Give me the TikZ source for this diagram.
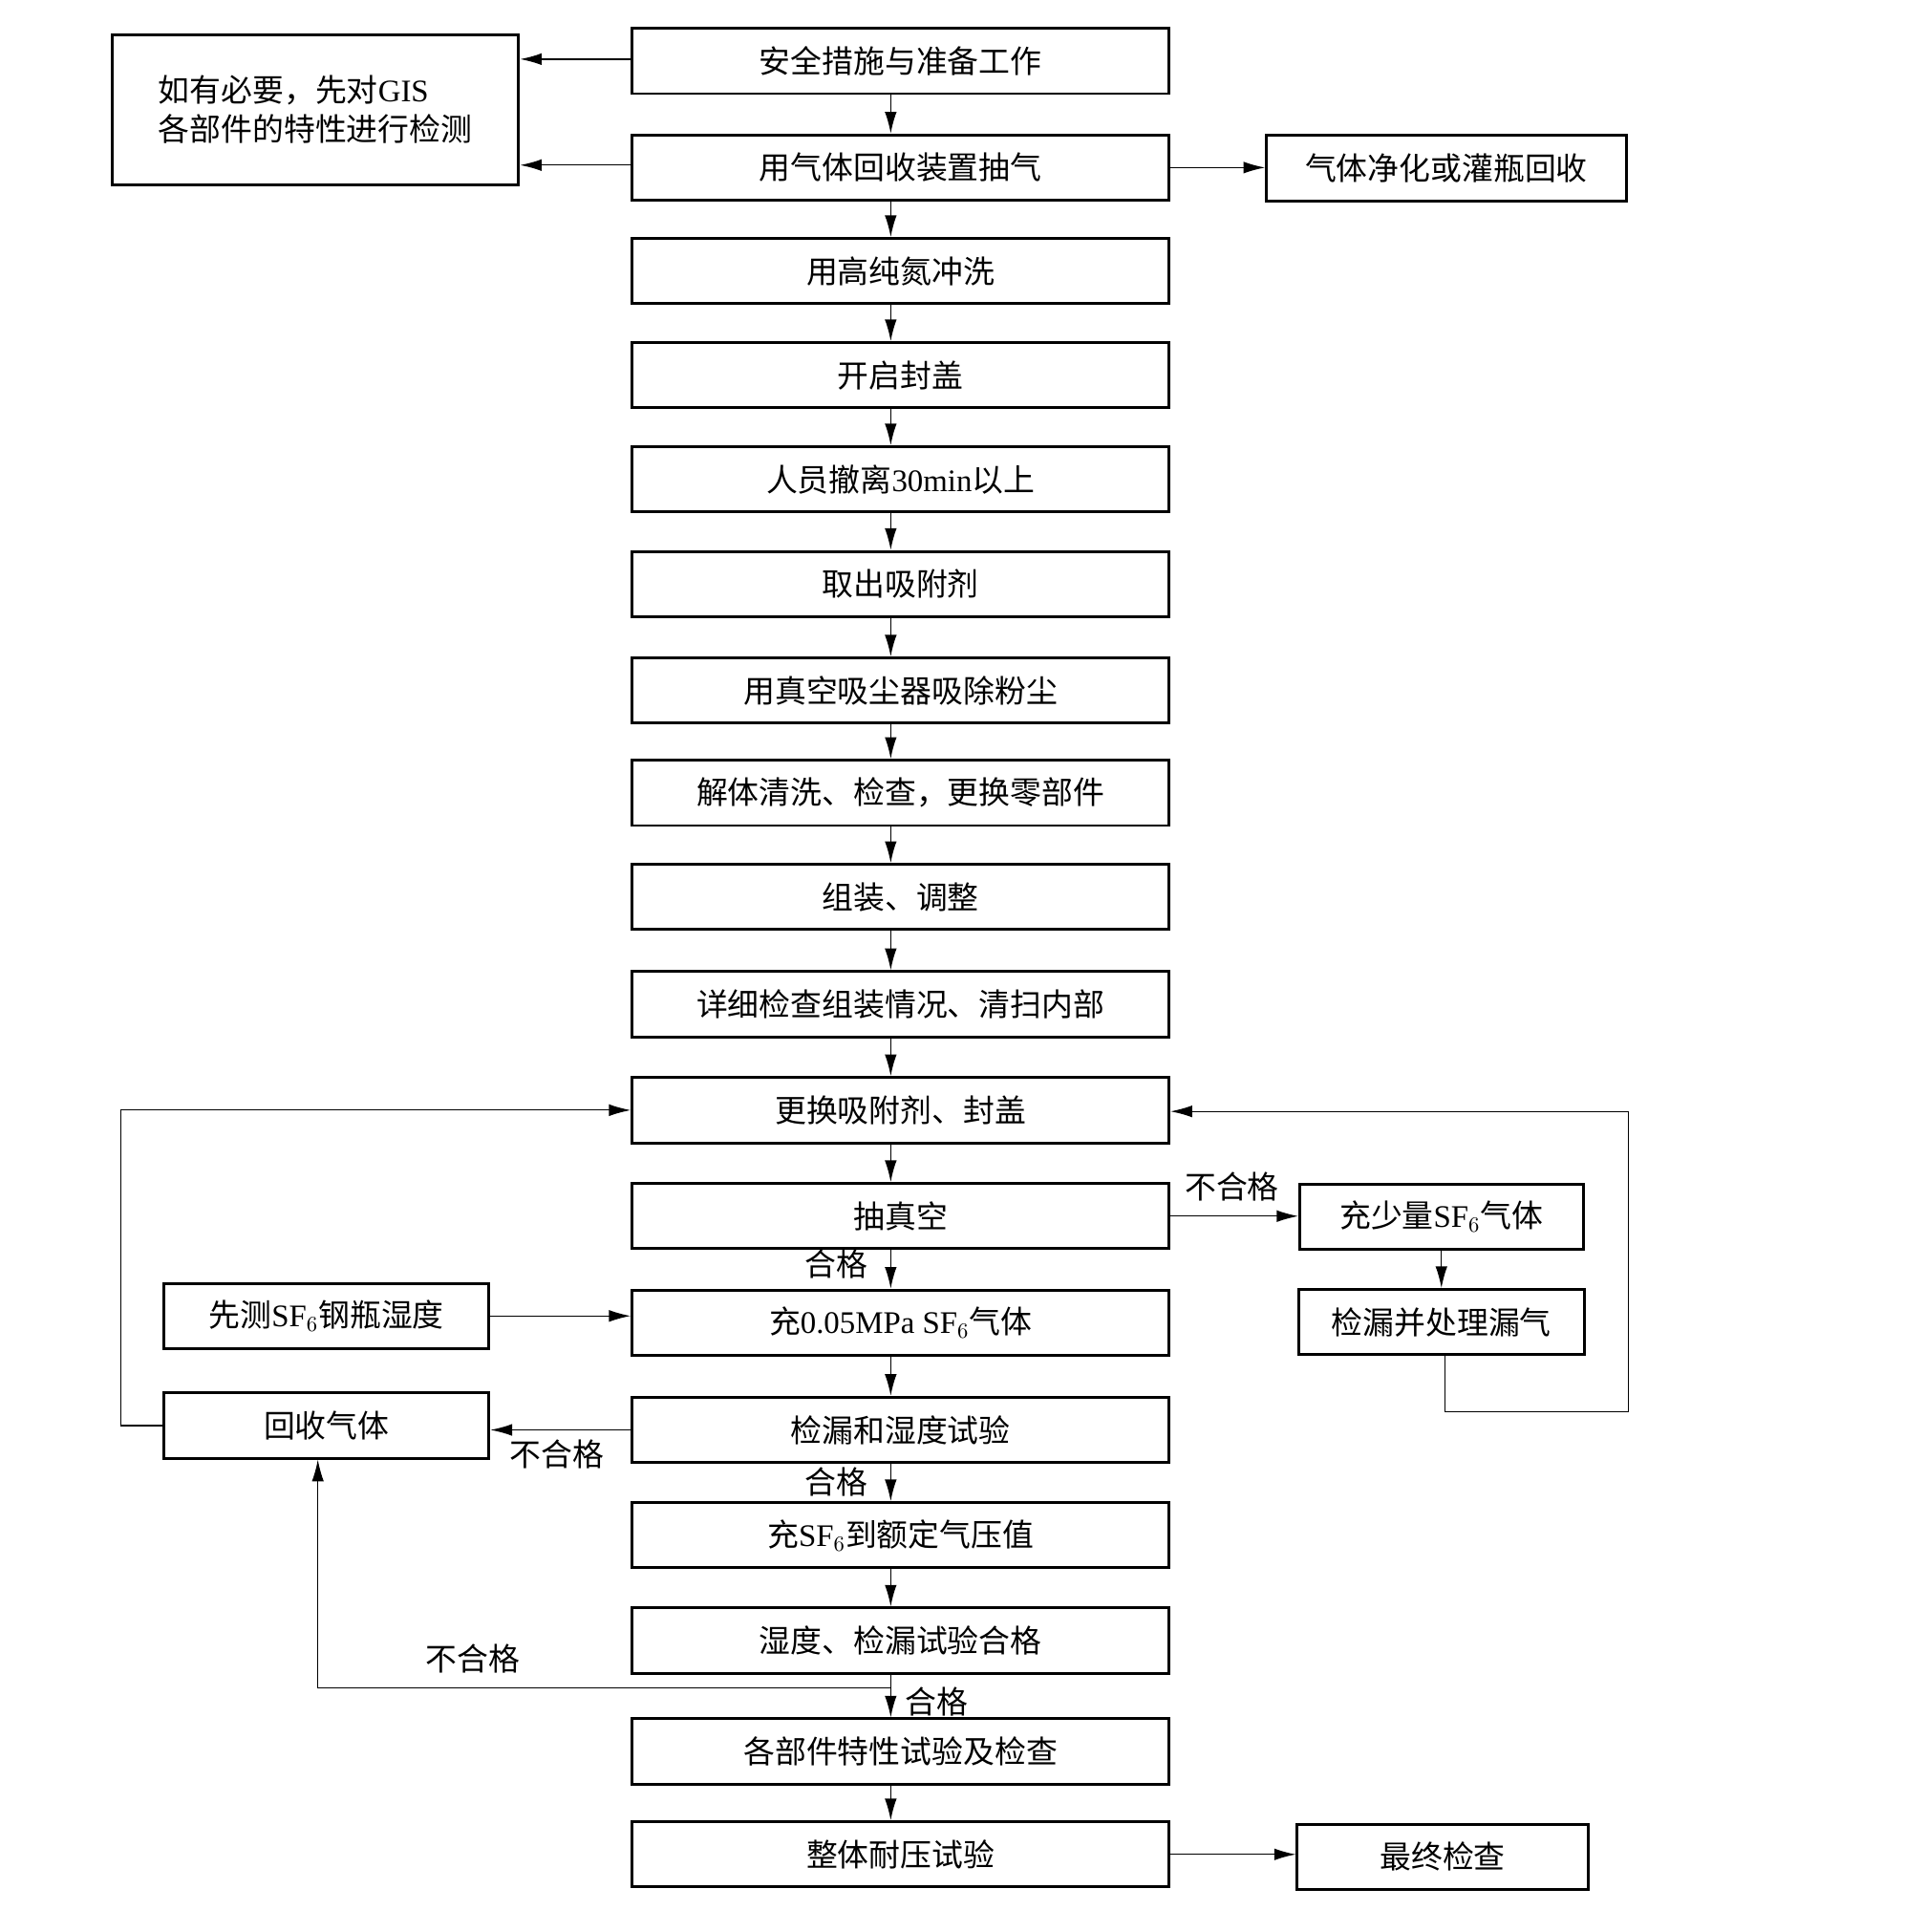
\documentclass[tikz,border=0pt]{standalone}
\usepackage{fontspec}
\setmainfont{Liberation Serif}
\newfontfamily\cjk{Noto Sans CJK SC}
\usetikzlibrary{arrows.meta}
\newcommand\lt[1]{{\rmfamily #1}}
\tikzset{
  txt/.style={font=\cjk\fontsize{14.5}{18}\selectfont},
  stepbox/.style={txt, draw, line width=1.3pt, minimum width=8.72cm, minimum height=1.06cm, inner sep=0pt},
  sidebox/.style={stepbox, minimum width=#1},
  flow/.style={-{Latex[length=10pt,width=5.5pt]}, line width=0.6pt},
  loop/.style={flow, line width=0.5pt},
  lab/.style={txt, inner sep=0pt},
}
\begin{document}
\begin{tikzpicture}[x=0.02cm, y=-0.02cm]
\useasboundingbox (0,0) rectangle (1563,1568);
\coordinate (ax) at (723,0);
% main column
\node[stepbox] (s1) at (731,49.5) {安全措施与准备工作};
\node[stepbox] (s2) at (731,136) {用气体回收装置抽气};
\node[stepbox] (s3) at (731,220) {用高纯氮冲洗};
\node[stepbox] (s4) at (731,304.5) {开启封盖};
\node[stepbox] (s5) at (731,389) {人员撤离\lt{30min}以上};
\node[stepbox] (s6) at (731,474) {取出吸附剂};
\node[stepbox] (s7) at (731,560.5) {用真空吸尘器吸除粉尘};
\node[stepbox] (s8) at (731,643.5) {解体清洗、检查，更换零部件};
\node[stepbox] (s9) at (731,728) {组装、调整};
\node[stepbox] (s10) at (731,815) {详细检查组装情况、清扫内部};
\node[stepbox] (s11) at (731,901) {更换吸附剂、封盖};
\node[stepbox] (s12) at (731,987) {抽真空};
\node[stepbox] (s13) at (731,1073.5) {充\lt{0.05MPa SF$_6$}气体};
\node[stepbox] (s14) at (731,1160.5) {检漏和湿度试验};
\node[stepbox] (s15) at (731,1246) {充\lt{SF$_6$}到额定气压值};
\node[stepbox] (s16) at (731,1331.5) {湿度、检漏试验合格};
\node[stepbox] (s17) at (731,1421.5) {各部件特性试验及检查};
\node[stepbox] (s18) at (731,1505) {整体耐压试验};
% side boxes
\node[sidebox=6.6cm, minimum height=2.44cm, align=left] (note) at (256,89) {如有必要，先对\lt{GIS}\\各部件的特性进行检测};
\node[sidebox=5.84cm] (purge) at (1174,136.5) {气体净化或灌瓶回收};
\node[sidebox=4.6cm] (fill) at (1170,987.5) {充少量\lt{SF$_6$}气体};
\node[sidebox=4.64cm] (leak) at (1170,1073) {检漏并处理漏气};
\node[sidebox=5.28cm] (hum) at (265,1068) {先测\lt{SF$_6$}钢瓶湿度};
\node[sidebox=5.28cm] (rec) at (265,1157) {回收气体};
\node[sidebox=4.72cm] (final) at (1171,1507) {最终检查};
% main arrows
\foreach \a/\b in {s1/s2,s2/s3,s3/s4,s4/s5,s5/s6,s6/s7,s7/s8,s8/s9,s9/s10,s10/s11,s11/s12,s12/s13,s13/s14,s14/s15,s15/s16,s16/s17,s17/s18}
  \draw[flow] (\a.south -| ax) -- (\b.north -| ax);
% side arrows
\draw[flow] ([yshift=0.03cm]s1.west) -- ([yshift=0.03cm]s1.west -| note.east);
\draw[flow] ([yshift=0.04cm]s2.west) -- ([yshift=0.04cm]s2.west -| note.east);
\draw[flow] (s2.east) -- (s2.east -| purge.west);
\draw[flow] (s12.east) -- (s12.east -| fill.west);
\draw[flow] (fill.south) -- (leak.north);
\draw[flow] (hum.east) -- (s13.west |- hum.east);
\draw[flow] (s14.west) -- (rec.east |- s14.west);
\draw[flow] (s18.east) -- (s18.east -| final.west);
% loops back
\draw[loop] (rec.west) -- ++(-34,0) |- (s11.west);
\draw[loop] ([xshift=0.06cm]leak.south) -- ++(0,45) -| (1322,902) -- (s11.east |- 1322,902);
\coordinate (jn) at (723,1370);
\draw[loop] (jn) -| ([xshift=-0.14cm]rec.south);
% labels
\node[lab] at (1000,963) {不合格};
\node[lab] at (679,1026) {合格};
\node[lab] at (452,1180) {不合格};
\node[lab] at (679,1203) {合格};
\node[lab] at (384,1346) {不合格};
\node[lab] at (760,1381) {合格};
\end{tikzpicture}
\end{document}
